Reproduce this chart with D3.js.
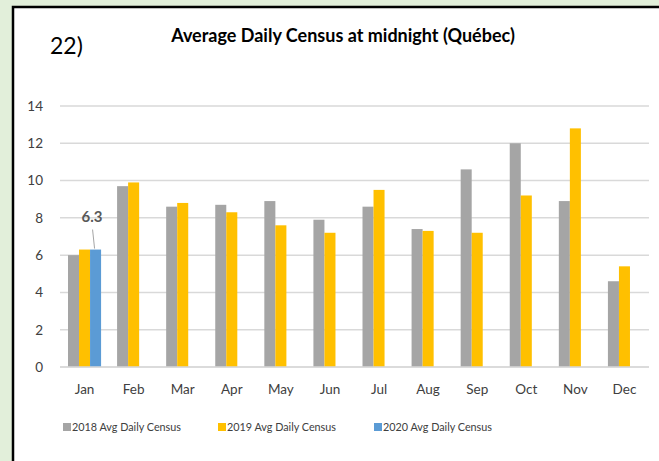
<!DOCTYPE html>
<html>
<head>
<meta charset="utf-8">
<script src="https://cdn.jsdelivr.net/npm/d3@7"></script>
<style>
  body { margin: 0; background: #e2efda; }
  #chart { width: 659px; height: 461px; }
</style>
</head>
<body>
<div id="chart"></div>
<script>
const months = ["Jan", "Feb", "Mar", "Apr", "May", "Jun", "Jul", "Aug", "Sep", "Oct", "Nov", "Dec"];
const seriesNames = ["2018 Avg Daily Census", "2019 Avg Daily Census", "2020 Avg Daily Census"];
const values2018 = [6.0, 9.7, 8.6, 8.7, 8.9, 7.9, 8.6, 7.4, 10.6, 12.0, 8.9, 4.6];
const values2019 = [6.3, 9.9, 8.8, 8.3, 7.6, 7.2, 9.5, 7.3, 7.2, 9.2, 12.8, 5.4];
const values2020 = [6.3, null, null, null, null, null, null, null, null, null, null, null];
const colors = ["#a5a5a5", "#ffc000", "#5b9bd5"];
const yTicks = [0, 2, 4, 6, 8, 10, 12, 14];

const W = 659, H = 461;
const font = "Lato, 'Open Sans', sans-serif";
const svg = d3.select("#chart").append("svg").attr("width", W).attr("height", H);

// white panel with black frame (right/bottom run off the picture)
svg.append("rect")
  .attr("x", 13).attr("y", 7)
  .attr("width", W + 20).attr("height", H + 20)
  .attr("fill", "#fff")
  .attr("stroke", "#000")
  .attr("stroke-width", 2.5);

svg.append("text")
  .attr("x", 50).attr("y", 54)
  .attr("font-family", font)
  .attr("font-size", 23)
  .text("22)");

svg.append("text")
  .attr("x", 343).attr("y", 42)
  .attr("text-anchor", "middle")
  .attr("font-family", font)
  .attr("font-weight", "bold")
  .attr("font-size", 18)
  .text("Average Daily Census at midnight (Québec)");

const plot = { left: 60, right: 649, top: 106, bottom: 367 };

const x = d3.scaleBand().domain(months).range([plot.left, plot.right]);
const xs = d3.scaleBand().domain(seriesNames)
  .range([8, x.bandwidth() - 8]);
const y = d3.scaleLinear().domain([0, 14]).range([plot.bottom, plot.top]);

// gridlines
svg.append("g")
  .selectAll("line")
  .data(yTicks)
  .enter()
  .append("line")
  .attr("x1", plot.left).attr("x2", plot.right)
  .attr("y1", d => y(d)).attr("y2", d => y(d))
  .attr("stroke", "#d9d9d9")
  .attr("stroke-width", 1.5);

// y axis labels
const yAxis = svg.append("g")
  .attr("transform", `translate(${plot.left - 17},0)`)
  .call(d3.axisLeft(y).tickValues(yTicks).tickSize(0).tickPadding(0));
yAxis.select(".domain").remove();
yAxis.selectAll("text")
  .attr("font-family", font)
  .attr("font-size", 13.5)
  .attr("fill", "#404040");

// x axis labels
const xAxis = svg.append("g")
  .attr("transform", `translate(0,${plot.bottom})`)
  .call(d3.axisBottom(x).tickSize(0).tickPadding(17));
xAxis.select(".domain").remove();
xAxis.selectAll("text")
  .attr("font-family", font)
  .attr("font-size", 13.5)
  .attr("fill", "#404040");

// bars
const allSeries = [values2018, values2019, values2020];
allSeries.forEach((vals, i) => {
  svg.append("g")
    .selectAll("rect")
    .data(months.map((m, j) => ({ m, v: vals[j] })).filter(d => d.v != null))
    .enter()
    .append("rect")
    .attr("x", d => x(d.m) + xs(seriesNames[i]))
    .attr("y", d => y(d.v))
    .attr("width", xs.bandwidth())
    .attr("height", d => y(0) - y(d.v))
    .attr("fill", colors[i]);
});

// baseline on top of bars
svg.append("line")
  .attr("x1", plot.left).attr("x2", plot.right)
  .attr("y1", y(0)).attr("y2", y(0))
  .attr("stroke", "#d9d9d9")
  .attr("stroke-width", 1.5);

// data label for 2020 Jan with leader line
const bx = x("Jan") + xs(seriesNames[2]) + xs.bandwidth() / 2;
svg.append("line")
  .attr("x1", bx - 3).attr("y1", y(values2020[0]) - 20)
  .attr("x2", bx - 1).attr("y2", y(values2020[0]) - 1)
  .attr("stroke", "#a5a5a5")
  .attr("stroke-width", 1);
svg.append("text")
  .attr("x", bx - 3.5).attr("y", y(values2020[0]) - 28)
  .attr("text-anchor", "middle")
  .attr("font-family", font)
  .attr("font-weight", "bold")
  .attr("font-size", 15)
  .attr("fill", "#595959")
  .text(d3.format(".1f")(values2020[0]));

// legend
const legendX = [63, 218, 374];
const legend = svg.append("g").attr("transform", "translate(0,427)");
seriesNames.forEach((name, i) => {
  legend.append("rect")
    .attr("x", legendX[i]).attr("y", -4)
    .attr("width", 8).attr("height", 8)
    .attr("fill", colors[i]);
  legend.append("text")
    .attr("x", legendX[i] + 9).attr("y", 0)
    .attr("dy", "0.35em")
    .attr("font-family", font)
    .attr("font-size", 10.8)
    .attr("fill", "#404040")
    .text(name);
});
</script>
</body>
</html>
